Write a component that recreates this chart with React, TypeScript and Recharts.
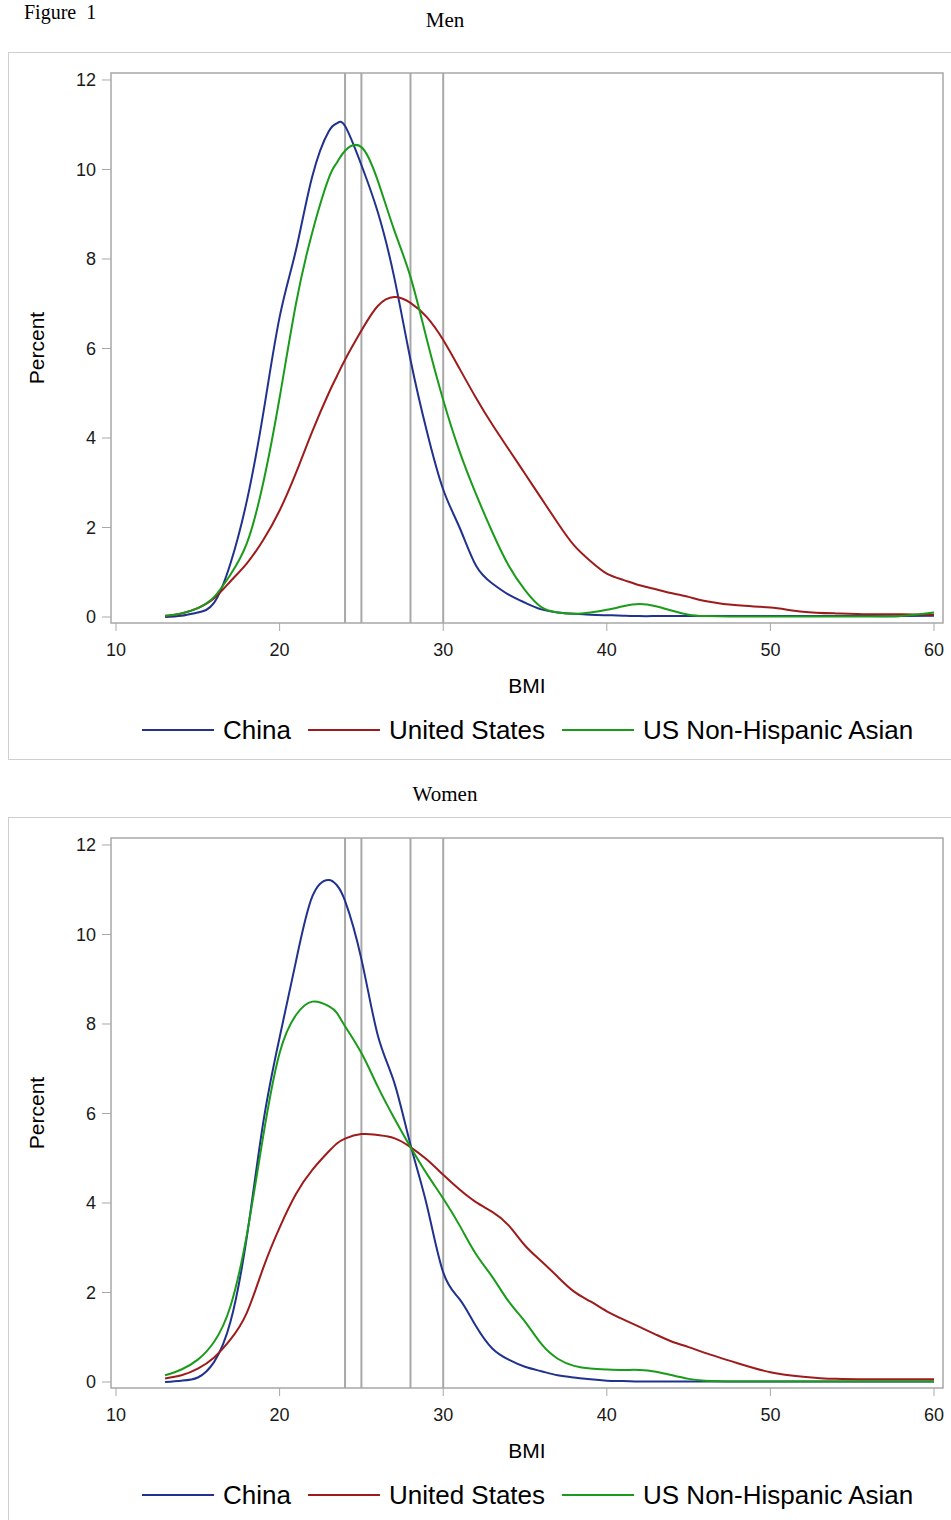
import { LineChart, Line, XAxis, YAxis, ReferenceLine, ReferenceArea, Legend } from 'recharts';

// BMI grid shared by every curve
const bmiGrid = [13, 14, 15, 16, 17, 18, 19, 20, 21, 22, 23, 23.5, 24, 25, 26, 27, 28, 29, 30, 31, 32, 33, 34, 35, 36, 37, 38, 39, 40, 41, 42, 43, 44, 45, 46, 48, 50, 52, 54, 56, 58, 60];

// Men
const menChina = [0.0, 0.03, 0.1, 0.32, 1.2, 2.6, 4.55, 6.7, 8.2, 9.85, 10.85, 11.03, 10.97, 10.1, 9.05, 7.6, 5.75, 4.15, 2.85, 2.0, 1.15, 0.75, 0.5, 0.32, 0.17, 0.1, 0.07, 0.05, 0.04, 0.03, 0.02, 0.02, 0.02, 0.02, 0.02, 0.02, 0.02, 0.02, 0.02, 0.02, 0.02, 0.03];
const menUS = [0.02, 0.08, 0.2, 0.42, 0.8, 1.2, 1.72, 2.38, 3.22, 4.15, 5.0, 5.38, 5.75, 6.4, 6.95, 7.15, 7.02, 6.7, 6.19, 5.55, 4.9, 4.3, 3.75, 3.2, 2.65, 2.1, 1.6, 1.25, 0.97, 0.83, 0.71, 0.62, 0.53, 0.45, 0.36, 0.26, 0.21, 0.12, 0.08, 0.06, 0.06, 0.05];
const menAsian = [0.03, 0.08, 0.2, 0.45, 0.95, 1.65, 3.0, 4.9, 7.0, 8.6, 9.8, 10.15, 10.42, 10.5, 9.75, 8.65, 7.6, 6.2, 4.85, 3.7, 2.75, 1.9, 1.15, 0.6, 0.22, 0.1, 0.07, 0.1, 0.16, 0.24, 0.29, 0.24, 0.14, 0.05, 0.02, 0.01, 0.01, 0.01, 0.01, 0.01, 0.02, 0.1];

// Women
const womenChina = [0.0, 0.03, 0.1, 0.45, 1.35, 3.25, 5.8, 7.7, 9.4, 10.85, 11.22, 11.1, 10.75, 9.45, 7.75, 6.7, 5.3, 3.95, 2.45, 1.85, 1.25, 0.75, 0.5, 0.34, 0.24, 0.15, 0.1, 0.06, 0.03, 0.02, 0.01, 0.01, 0.01, 0.01, 0.01, 0.01, 0.01, 0.01, 0.01, 0.01, 0.01, 0.01];
const womenUS = [0.08, 0.15, 0.3, 0.55, 0.95, 1.55, 2.55, 3.45, 4.2, 4.74, 5.15, 5.33, 5.44, 5.54, 5.52, 5.45, 5.25, 4.97, 4.63, 4.3, 4.02, 3.8, 3.5, 3.05, 2.7, 2.35, 2.02, 1.8, 1.58, 1.4, 1.23, 1.06, 0.9, 0.78, 0.65, 0.42, 0.22, 0.12, 0.07, 0.06, 0.06, 0.06];
const womenAsian = [0.15, 0.28, 0.5, 0.9, 1.7, 3.3, 5.5, 7.35, 8.2, 8.5, 8.4, 8.25, 7.95, 7.35, 6.6, 5.9, 5.25, 4.65, 4.1, 3.5, 2.86, 2.35, 1.8, 1.35, 0.85, 0.52, 0.36, 0.3, 0.28, 0.27, 0.27, 0.23, 0.15, 0.07, 0.03, 0.01, 0.01, 0.01, 0.01, 0.01, 0.01, 0.01];

const xTicks = [10, 20, 30, 40, 50, 60];
const yTicks = [0, 2, 4, 6, 8, 10, 12];
const cutoffs = [24, 25, 28, 30];
const seriesKeys = ['china', 'us', 'asian'];
const seriesNames = ['China', 'United States', 'US Non-Hispanic Asian'];
const seriesColors = ['#20318e', '#9e1b1b', '#1a9c1a'];

const X_DOMAIN: [number, number] = [9.694, 60.55];
const Y_DOMAIN: [number, number] = [-0.134, 12.156];

const SANS = "'Liberation Sans', Arial, sans-serif";
const SERIF = "'Liberation Serif', 'Times New Roman', serif";
const GRID = '#a8a8a8';

function buildRows(china: number[], us: number[], asian: number[]) {
    return bmiGrid.map((bmi, i) => ({ bmi, china: china[i], us: us[i], asian: asian[i] }));
}

function KeyLegend() {
    return (
        <div style={{
            height: 57, display: 'flex', alignItems: 'center', paddingLeft: 142, paddingBottom: 3,
            boxSizing: 'border-box', fontFamily: SANS, fontSize: 26, color: '#000', whiteSpace: 'nowrap'
        }}>
            {seriesNames.map((name, i) => (
                <div key={name} style={{ display: 'flex', alignItems: 'center', marginRight: 17 }}>
                    <span style={{ display: 'inline-block', width: 72, height: 2, background: seriesColors[i], marginRight: 9 }} />
                    <span>{name}</span>
                </div>
            ))}
        </div>
    );
}

interface PanelProps {
    title: string;
    top: number;
    titleGap: number;
    china: number[];
    us: number[];
    asian: number[];
}

function Panel({ title, top, titleGap, china, us, asian }: PanelProps) {
    const rows = buildRows(china, us, asian);
    const tickStyle = { fontSize: 18, fill: '#1a1a1a', fontFamily: SANS };
    return (
        <>
            <div style={{
                position: 'absolute', left: 0, width: 890, top: top - titleGap, textAlign: 'center',
                fontFamily: SERIF, fontSize: 21, lineHeight: 1, color: '#000'
            }}>{title}</div>
            <div style={{ position: 'absolute', left: 8, top, width: 960, height: 708, border: '1px solid #cfcfcf', boxSizing: 'border-box' }} />
            <div style={{ position: 'absolute', left: 0, top }}>
                <LineChart width={951} height={708} data={rows} margin={{ top: 21, right: 8, left: 0, bottom: 0 }}>
                    <XAxis
                        dataKey="bmi" type="number" domain={X_DOMAIN} ticks={xTicks} allowDataOverflow
                        axisLine={false} tickLine={{ stroke: GRID }} tickSize={8} tickMargin={12}
                        tick={tickStyle} height={80}
                        label={{ value: 'BMI', position: 'insideBottom', offset: 10, style: { fontSize: 21, fill: '#000', fontFamily: SANS } }}
                    />
                    <YAxis
                        type="number" domain={Y_DOMAIN} ticks={yTicks} allowDataOverflow
                        axisLine={false} tickLine={{ stroke: GRID }} tickSize={9} tickMargin={6}
                        tick={tickStyle} width={111}
                        label={{ value: 'Percent', angle: -90, position: 'insideLeft', offset: 37, style: { textAnchor: 'middle', fontSize: 21, fill: '#000', fontFamily: SANS } }}
                    />
                    <ReferenceArea x1={X_DOMAIN[0]} x2={X_DOMAIN[1]} y1={Y_DOMAIN[0]} y2={Y_DOMAIN[1]} fill="none" stroke={GRID} strokeWidth={1.5} ifOverflow="visible" />
                    {cutoffs.map(c => (
                        <ReferenceLine key={c} x={c} stroke={GRID} strokeWidth={2} />
                    ))}
                    {seriesKeys.map((k, i) => (
                        <Line key={k} type="natural" dataKey={k} name={seriesNames[i]} stroke={seriesColors[i]} strokeWidth={2} dot={false} isAnimationActive={false} />
                    ))}
                    <Legend verticalAlign="bottom" content={() => <KeyLegend />} />
                </LineChart>
            </div>
        </>
    );
}

export default function App() {
    return (
        <div style={{ position: 'absolute', left: 0, top: 0, width: 951, height: 1520, overflow: 'hidden', background: '#fff' }}>
            <div style={{ position: 'absolute', left: 24, top: 1, fontFamily: SERIF, fontSize: 20, lineHeight: 1.1, color: '#000' }}>Figure&nbsp; 1</div>
            <Panel title="Men" top={52} titleGap={42} china={menChina} us={menUS} asian={menAsian} />
            <Panel title="Women" top={817} titleGap={33} china={womenChina} us={womenUS} asian={womenAsian} />
        </div>
    );
}
